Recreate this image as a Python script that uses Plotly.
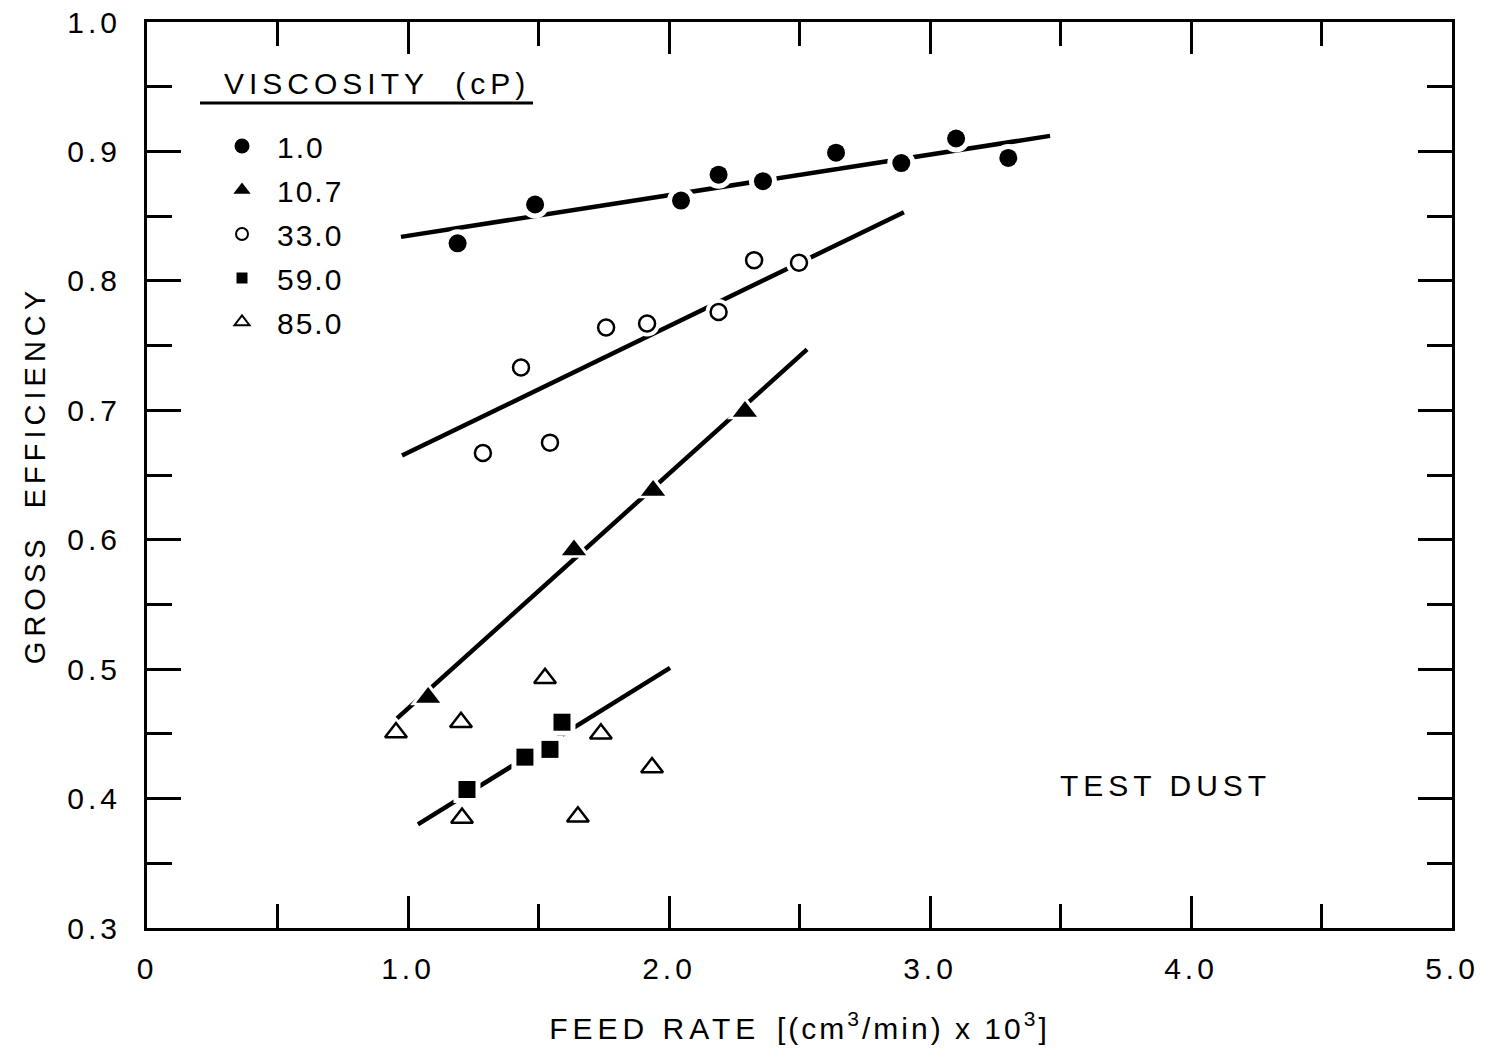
import plotly.graph_objects as go

# ---------------- data ----------------
visc_labels = ["1.0", "10.7", "33.0", "59.0", "85.0"]

x_v1 = [1.19, 1.487, 2.046, 2.19, 2.36, 2.64, 2.89, 3.10, 3.30]
y_v1 = [0.829, 0.859, 0.862, 0.882, 0.877, 0.899, 0.891, 0.910, 0.895]
fit_x_v1 = [0.973, 3.46]
fit_y_v1 = [0.834, 0.912]

x_v107 = [1.077, 1.636, 1.939, 2.291]
y_v107 = [0.478, 0.592, 0.638, 0.699]
fit_x_v107 = [0.958, 2.529]
fit_y_v107 = [0.462, 0.747]

x_v33 = [1.287, 1.433, 1.544, 1.759, 1.916, 2.19, 2.326, 2.498]
y_v33 = [0.667, 0.733, 0.675, 0.764, 0.767, 0.776, 0.816, 0.814]
fit_x_v33 = [0.977, 2.90]
fit_y_v33 = [0.665, 0.853]

x_v59 = [1.226, 1.448, 1.544, 1.59]
y_v59 = [0.407, 0.432, 0.438, 0.459]
fit_x_v59 = [1.038, 2.004]
fit_y_v59 = [0.380, 0.501]

x_v85 = [0.954, 1.203, 1.525, 1.739, 1.935, 1.207, 1.651]
y_v85 = [0.451, 0.459, 0.493, 0.450, 0.424, 0.385, 0.386]

x_ticks = [0, 1, 2, 3, 4, 5]
x_ticktext = ["0", "1.0", "2.0", "3.0", "4.0", "5.0"]
y_ticks = [0.3, 0.4, 0.5, 0.6, 0.7, 0.8, 0.9, 1.0]
y_ticktext = ["0.3", "0.4", "0.5", "0.6", "0.7", "0.8", "0.9", "1.0"]

FONT = "Liberation Sans"


def sp(t, ls="letter-spacing:4px"):
    return f'<span style="{ls}">{t}</span>'


fig = go.Figure()

# fitted lines
for fx, fy in [(fit_x_v1, fit_y_v1), (fit_x_v107, fit_y_v107),
               (fit_x_v33, fit_y_v33), (fit_x_v59, fit_y_v59)]:
    fig.add_trace(go.Scatter(x=fx, y=fy, mode="lines",
                             line=dict(color="black", width=4.5),
                             showlegend=False, hoverinfo="skip"))

series = [
    (x_v1, y_v1, "circle", 18, 0),
    (x_v107, y_v107, "triangle-up", 21, 0),
    (x_v33, y_v33, "circle-open", 16, 2.5),
    (x_v59, y_v59, "square", 17, 0),
    (x_v85, y_v85, "triangle-up-open", 19, 2.5),
]

# white halos (gaps in lines around markers)
for xs, ys, sym, size, lw in series:
    base = sym.replace("-open", "")
    fig.add_trace(go.Scatter(x=xs, y=ys, mode="markers",
                             marker=dict(symbol=base, size=size + 10, color="white",
                                         line=dict(width=0)),
                             showlegend=False, hoverinfo="skip"))

# data markers
for (xs, ys, sym, size, lw), lab in zip(series, visc_labels):
    if "open" in sym:
        base = sym.replace("-open", "")
        marker = dict(symbol=base, size=size, color="white",
                      line=dict(color="black", width=lw))
    else:
        marker = dict(symbol=sym, size=size, color="black", line=dict(width=0))
    fig.add_trace(go.Scatter(x=xs, y=ys, mode="markers", marker=marker,
                             showlegend=False, name=lab))

# legend-only entries with smaller symbols
leg_sizes = [15, 15, 12, 11, 13]
for (xs, ys, sym, size, lw), lab, ls_ in zip(series, visc_labels, leg_sizes):
    if "open" in sym:
        base = sym.replace("-open", "")
        marker = dict(symbol=base, size=ls_, color="white",
                      line=dict(color="black", width=2))
    else:
        marker = dict(symbol=sym, size=ls_, color="black", line=dict(width=0))
    fig.add_trace(go.Scatter(x=[None], y=[None], mode="markers", marker=marker,
                             name="\u2002" + sp(lab, "letter-spacing:2px"), legendgroup=lab,
                             showlegend=True))

axis_common = dict(
    showline=True, linecolor="black", linewidth=3, mirror="ticks",
    ticks="inside", tickcolor="black", tickwidth=3,
    showgrid=False, zeroline=False, automargin=False,
    tickfont=dict(family=FONT, size=30, color="black"),
)

fig.update_xaxes(
    range=[0, 5], tickmode="array", tickvals=x_ticks,
    ticktext=[sp(t) for t in x_ticktext], ticklen=32,
    minor=dict(dtick=0.5, tick0=0, ticklen=24, tickwidth=3, tickcolor="black",
               ticks="inside", showgrid=False),
    ticklabelstandoff=12,
    title=dict(text=sp("FEED RATE", "letter-spacing:5px") + "  "
               + sp("[(cm<sup>3</sup>/min) x 10<sup>3</sup>]", "letter-spacing:3px"),
               font=dict(family=FONT, size=30, color="black"), standoff=34),
    **axis_common,
)
fig.update_yaxes(
    range=[0.3, 1.0], tickmode="array", tickvals=y_ticks,
    ticktext=[sp(t) for t in y_ticktext], ticklen=34,
    minor=dict(dtick=0.05, tick0=0.3, ticklen=25, tickwidth=3, tickcolor="black",
               ticks="inside", showgrid=False),
    ticklabelstandoff=17,
    title=dict(text=sp("GROSS  EFFICIENCY", "letter-spacing:5px"),
               font=dict(family=FONT, size=29, color="black"), standoff=14),
    **axis_common,
)

fig.add_annotation(text=sp("TEST DUST", "letter-spacing:5px"), xref="paper", yref="paper",
                   x=(1165 - 147) / 1305, y=(928 - 785) / 906, showarrow=False,
                   font=dict(family=FONT, size=30, color="black"),
                   xanchor="center", yanchor="middle")

# legend title (with underline)
fig.add_annotation(text=sp("VISCOSITY  (cP)", "letter-spacing:5px"), xref="paper", yref="paper",
                   x=(377 - 147) / 1305, y=(928 - 83) / 906, showarrow=False,
                   font=dict(family=FONT, size=30, color="black"),
                   xanchor="center", yanchor="middle")
fig.add_shape(type="line", xref="paper", yref="paper",
              x0=(200 - 147) / 1305, x1=(533 - 147) / 1305,
              y0=(928 - 103) / 906, y1=(928 - 103) / 906,
              line=dict(color="black", width=3))

fig.update_layout(
    width=1485, height=1055,
    margin=dict(l=147, r=33, t=22, b=127, autoexpand=False),
    paper_bgcolor="white", plot_bgcolor="white",
    showlegend=True,
    legend=dict(x=(222 - 147) / 1305, y=(928 - 120) / 906, xanchor="left", yanchor="top",
                bgcolor="rgba(0,0,0,0)", borderwidth=0,
                font=dict(family=FONT, size=30, color="black"),
                traceorder="grouped", tracegroupgap=2, itemsizing="trace"),
)

fig.write_html("out.html")
